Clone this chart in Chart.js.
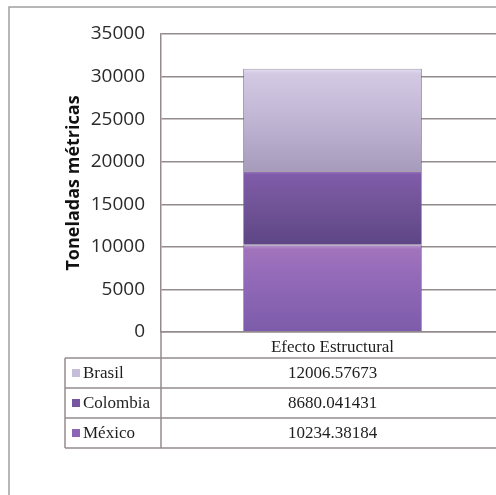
<!DOCTYPE html>
<html lang="es">
<head>
    <meta charset="UTF-8">
    <title>Efecto Estructural</title>
    <script src="https://cdn.jsdelivr.net/npm/chart.js"></script>
    <style>
        body { margin: 0; background: #fff; overflow: hidden; }
        #caja { position: relative; width: 512px; height: 495px; }
    </style>
</head>
<body>
    <div id="caja">
        <canvas id="grafico"></canvas>
    </div>

<script>
    // datos
    const categorias = ['Efecto Estructural'];
    const paises = ['México', 'Colombia', 'Brasil'];   // de abajo hacia arriba
    const valoresMexico = [10234.38184];
    const valoresColombia = [8680.041431];
    const valoresBrasil = [12006.57673];
    const ejeMin = 0;
    const ejeMax = 35000;
    const ejePaso = 5000;

    const series = [valoresMexico, valoresColombia, valoresBrasil];

    // colores de cada pais (degradado: brillo arriba, mas oscuro abajo)
    const degradados = [
        ['#b898d0', '#a173bc', '#9068b8', '#7c5caa'],
        ['#9a7cc0', '#7f5ba9', '#725498', '#5d4585'],
        ['#e4def0', '#d3c9e3', '#c2b8d6', '#a79bbb']
    ];
    const muestras = ['#8b66b5', '#76569f', '#c6bdda'];

    const lineaGris = '#948c8c';

    function colorBarra(ctx) {
        const chart = ctx.chart;
        const area = chart.chartArea;
        const y = chart.scales.y;
        if (!area || !y) return degradados[ctx.datasetIndex][2];
        let base = 0;
        for (let k = 0; k < ctx.datasetIndex; k++) base += series[k][ctx.dataIndex];
        const tope = base + series[ctx.datasetIndex][ctx.dataIndex];
        const y0 = y.getPixelForValue(tope);
        const y1 = y.getPixelForValue(base);
        const g = chart.ctx.createLinearGradient(0, y0, 0, y1);
        const c = degradados[ctx.datasetIndex];
        g.addColorStop(0, c[0]);
        g.addColorStop(0.05, c[1]);
        g.addColorStop(0.45, c[2]);
        g.addColorStop(1, c[3]);
        return g;
    }

    // marco exterior y tabla de datos debajo del grafico
    const tablaDatos = {
        id: 'tablaDatos',
        beforeDraw(chart) {
            const c = chart.ctx;
            c.save();
            c.strokeStyle = '#a0a0a0';
            c.lineWidth = 1.5;
            c.beginPath();
            c.moveTo(9, chart.height);
            c.lineTo(9, 7);
            c.lineTo(chart.width, 7);
            c.stroke();
            c.restore();
        },
        afterDraw(chart) {
            const c = chart.ctx;
            const area = chart.chartArea;
            const x = chart.scales.x;
            const filaAlto = 30;
            const tablaTop = 358;
            const colIzq = 65;
            const derecha = chart.width;
            const n = paises.length;

            c.save();
            c.strokeStyle = lineaGris;
            c.lineWidth = 1.5;
            c.beginPath();
            // vertical del eje que baja por la tabla
            c.moveTo(area.left, area.bottom);
            c.lineTo(area.left, tablaTop + n * filaAlto);
            c.moveTo(colIzq, tablaTop);
            c.lineTo(colIzq, tablaTop + n * filaAlto);
            for (let i = 0; i <= n; i++) {
                const yy = tablaTop + i * filaAlto;
                c.moveTo(colIzq, yy);
                c.lineTo(derecha, yy);
            }
            c.stroke();

            c.font = '17px "Liberation Serif", "Times New Roman", serif';
            c.textBaseline = 'middle';
            c.fillStyle = '#1e1e1e';
            for (let i = 0; i < n; i++) {
                const s = n - 1 - i; // Brasil arriba
                const yc = tablaTop + i * filaAlto + filaAlto / 2 + 1;
                c.fillStyle = muestras[s];
                c.fillRect(72, yc - 5, 8, 8);
                c.fillStyle = '#1e1e1e';
                c.textAlign = 'left';
                c.fillText(paises[s], 83, yc);
                c.textAlign = 'center';
                categorias.forEach((cat, j) => {
                    c.fillText(String(series[s][j]), x.getPixelForTick(j), yc);
                });
            }
            c.restore();
        }
    };

    const dados = {
        labels: categorias,
        datasets: paises.map((p, i) => ({
            label: p,
            data: series[i],
            backgroundColor: colorBarra,
            borderColor: 'rgba(110,95,125,0.6)',
            borderWidth: 1,
            categoryPercentage: 1,
            barPercentage: 0.522
        }))
    };

    const config = {
        type: 'bar',
        data: dados,
        options: {
            responsive: true,
            maintainAspectRatio: false,
            animation: false,
            layout: {
                padding: { top: 34, left: 63, right: 8, bottom: 137 }
            },
            plugins: {
                legend: { display: false },
                tooltip: { enabled: false }
            },
            scales: {
                x: {
                    stacked: true,
                    afterFit: (s) => { s.height = 26; },
                    grid: { display: false, drawTicks: false },
                    border: { display: true, color: lineaGris, width: 1.5 },
                    ticks: {
                        padding: 5,
                        color: '#1e1e1e',
                        font: { family: '"Liberation Serif", "Times New Roman", serif', size: 17 }
                    }
                },
                y: {
                    stacked: true,
                    min: ejeMin,
                    max: ejeMax,
                    afterFit: (s) => { s.width = 98; },
                    grid: { color: lineaGris, lineWidth: 1.5, drawTicks: false },
                    border: { display: true, color: lineaGris, width: 1.5 },
                    ticks: {
                        stepSize: ejePaso,
                        padding: 16,
                        color: '#2a2a2a',
                        font: { family: '"Open Sans", sans-serif', size: 19 },
                        callback: (v) => String(v)
                    },
                    title: {
                        display: true,
                        text: 'Toneladas métricas',
                        color: '#111',
                        padding: 0,
                        font: { family: '"Open Sans", sans-serif', size: 18, weight: 'bold' }
                    }
                }
            }
        },
        plugins: [tablaDatos]
    };

    new Chart(document.getElementById('grafico'), config);
</script>
</body>
</html>
